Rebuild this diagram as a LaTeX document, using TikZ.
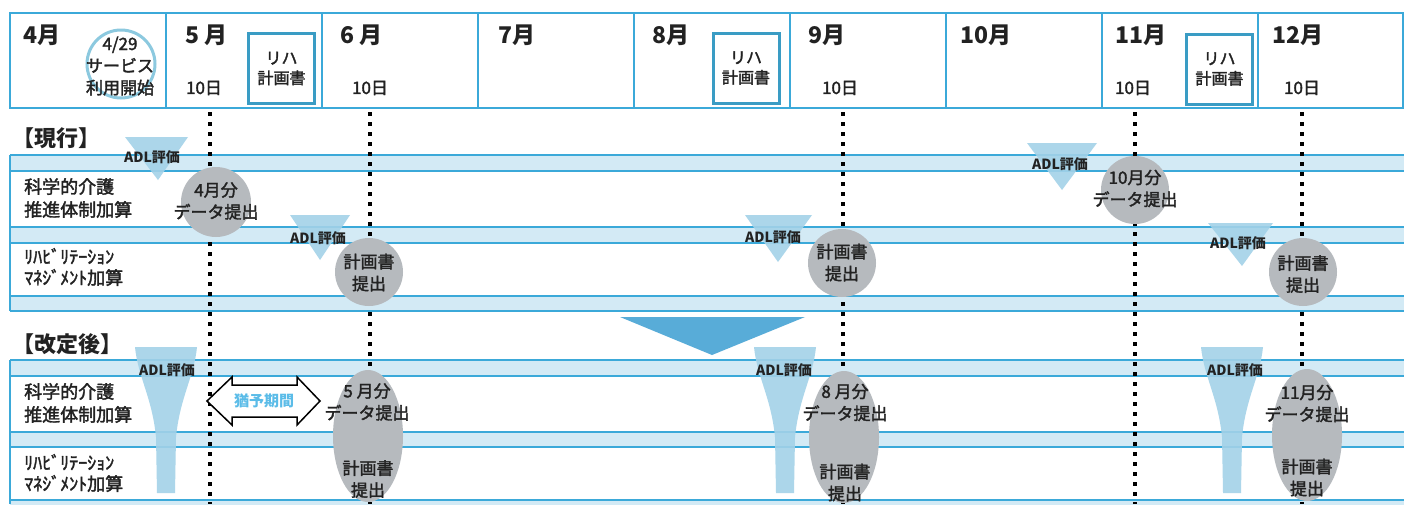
\documentclass[tikz,border=0pt]{standalone}
\usepackage{fontspec}
\setmainfont{Noto Sans CJK JP}
\newfontfamily\medfont{Noto Sans CJK JP}[FakeBold=2]
\usetikzlibrary{shapes.geometric}
\definecolor{lineblue}{HTML}{3BA9D9}
\definecolor{bandfill}{HTML}{D3EAF5}
\definecolor{boxblue}{HTML}{3A9CC4}
\definecolor{circblue}{HTML}{8CC9DF}
\definecolor{cgray}{HTML}{B6BABE}
\definecolor{bigtri}{HTML}{58ACD8}
\definecolor{adlfill}{HTML}{A3D2E8}
\definecolor{yuyo}{HTML}{5BBCE8}
\definecolor{ink}{HTML}{222222}
\begin{document}
\begin{tikzpicture}[x=1pt,y=-1pt,
  mon/.style={anchor=west,inner sep=0,text=ink,font=\fontsize{23}{25}\selectfont\bfseries},
  daylab/.style={inner sep=0,text=ink,font=\medfont\fontsize{17}{19}\selectfont},
  rbox/.style={draw=boxblue,line width=3,minimum width=66,minimum height=70,inner sep=0,align=center,text=ink,font=\medfont\fontsize{16}{20}\selectfont},
  sect/.style={anchor=west,inner sep=0,text=ink,font=\fontsize{22}{24}\selectfont\bfseries},
  rowlab/.style={anchor=west,inner sep=0,align=left,text=ink,font=\medfont\fontsize{18}{23}\selectfont},
  hwlab/.style={anchor=west,inner sep=0,align=left,text=ink,font=\medfont\fontsize{18}{21}\selectfont},
  gcirc/.style={circle,fill=cgray,inner sep=0},
  gell/.style={ellipse,fill=cgray,inner sep=0,minimum width=70,minimum height=132},
  ctext/.style={inner sep=0,align=center,text=ink,font=\medfont\fontsize{17}{22}\selectfont},
  adl/.style={inner sep=0,text=ink,font=\fontsize{14}{16}\selectfont\bfseries},
  band/.style={fill=bandfill},
  bline/.style={draw=lineblue,line width=1.6},
  dots/.style={line width=4,dash pattern=on 4 off 6,black},
  adltri/.style={fill=adlfill,fill opacity=0.9}
]
\useasboundingbox (0,0) rectangle (1404,504);
\fill[white] (0,0) rectangle (1404,504);

% ---------- header ----------
\draw[lineblue,line width=2] (10,13) rectangle (1403,108);
\foreach \x in {166,322,478,634,790,946,1102,1258}
  \draw[lineblue,line width=1.5] (\x,13) -- (\x,108);
\node[mon] (m4) at (23,35) {4月};
\node[mon] (m5) at (185,35) {5 月};
\node[mon] (m6) at (340,35) {6 月};
\node[mon] (m7) at (498,35) {7月};
\node[mon] (m8) at (652,35) {8月};
\node[mon] (m9) at (808,35) {9月};
\node[mon] (m10) at (960,35) {10月};
\node[mon] (m11) at (1115,35) {11月};
\node[mon] (m12) at (1272,35) {12月};
\node[daylab] (d5) at (204,88) {10日};
\node[daylab] (d6) at (370,88) {10日};
\node[daylab] (d9) at (840,88) {10日};
\node[daylab] (d11) at (1133,88) {10日};
\node[daylab] (d12) at (1302,88) {10日};
\node[rbox] (r5) at (281.5,68.5) {リハ\\計画書};
\node[rbox] (r8) at (746,68) {リハ\\計画書};
\node[rbox] (r11) at (1219.5,69) {リハ\\計画書};
\node[draw=circblue,circle,line width=3,minimum size=68,inner sep=0] (c429) at (121,64) {};
\node[ctext] (t429) at (120,66) {4/29\\サービス\\利用開始};

% ---------- bands ----------
\foreach \a/\b in {155/171,227/243,296/311,360/376,432/447,500/506} {
  \fill[band] (10,\a) rectangle (1404,\b);
  \draw[bline] (10,\a) -- (1404,\a);
  \draw[bline] (10,\b) -- (1404,\b);
}
\draw[bline] (10,155) -- (10,311);
\draw[bline] (10,360) -- (10,504);

% ---------- ADL triangles (current) ----------
\fill[adltri] (125,137) -- (188,137) -- (158,180) -- cycle;
\fill[adltri] (290,215) -- (350,215) -- (320,260) -- cycle;
\fill[adltri] (745,215) -- (812,215) -- (778,262) -- cycle;
\fill[adltri] (1027,143) -- (1097,143) -- (1062,190) -- cycle;
\fill[adltri] (1208,223) -- (1273,223) -- (1242,266) -- cycle;

% ---------- ADL funnels (revised) ----------
\foreach \cx in {166,785,1232} {
  \begin{scope}[shift={(\cx,347)}]
    \fill[adltri] (-31,0) -- (31,0) .. controls (28,30) and (14,50) .. (10,90)
      -- (9,146) -- (-9,146) -- (-10,90) .. controls (-14,50) and (-28,30) .. (-31,0) -- cycle;
  \end{scope}
}

% ---------- big down triangle ----------
\fill[bigtri] (620,317) -- (805,317) -- (712,355) -- cycle;

% ---------- dotted timelines ----------
\foreach \n/\x in {a/210,b/370,c/843,d/1135,e/1302} {
  \coordinate (v\n t) at (\x,112);
  \coordinate (v\n b) at (\x,504);
  \draw[dots] (v\n t) -- (v\n b);
}

% ---------- section titles and row labels ----------
\node[sect] (genko) at (12,138) {【現行】};
\node[sect] (kaitei) at (12,344) {【改定後】};
\node[rowlab] (k1) at (24,198) {科学的介護\\推進体制加算};
\node[hwlab] (h1) at (24,267) {ﾘﾊﾋﾞﾘﾃｰｼｮﾝ\\ﾏﾈｼﾞﾒﾝﾄ加算};
\node[rowlab] (k2) at (24,403) {科学的介護\\推進体制加算};
\node[hwlab] (h2) at (24,473) {ﾘﾊﾋﾞﾘﾃｰｼｮﾝ\\ﾏﾈｼﾞﾒﾝﾄ加算};

% ---------- gray circles (current) ----------
\node[gcirc,minimum size=70] (g1) at (216,202) {};
\node[ctext] (g1t) at (216,201) {4月分\\データ提出};
\node[gcirc,minimum size=68] (g2) at (369,272) {};
\node[ctext] (g2t) at (369,272.5) {計画書\\提出};
\node[gcirc,minimum size=68] (g3) at (842,263) {};
\node[ctext] (g3t) at (842,262.5) {計画書\\提出};
\node[gcirc,minimum size=68] (g4) at (1135,190) {};
\node[ctext] (g4t) at (1135,188.5) {10月分\\データ提出};
\node[gcirc,minimum size=68] (g5) at (1303,272) {};
\node[ctext] (g5t) at (1303,274) {計画書\\提出};

% ---------- gray ellipses (revised) ----------
\node[gell] (e5) at (368,436) {};
\node[ctext] (e5a) at (367,402) {5 月分\\データ提出};
\node[ctext] (e5b) at (368,479) {計画書\\提出};
\node[gell] (e8) at (844,437) {};
\node[ctext] (e8a) at (845,402.5) {8 月分\\データ提出};
\node[ctext] (e8b) at (845,482.5) {計画書\\提出};
\node[gell] (e11) at (1307,435) {};
\node[ctext] (e11a) at (1307,403.5) {11月分\\データ提出};
\node[ctext] (e11b) at (1307,477.5) {計画書\\提出};

% ---------- ADL labels ----------
\node[adl] (a1) at (152,157) {ADL評価};
\node[adl] (a2) at (318,238) {ADL評価};
\node[adl] (a3) at (773,237) {ADL評価};
\node[adl] (a4) at (1060,164) {ADL評価};
\node[adl] (a5) at (1238,243) {ADL評価};
\node[adl] (a6) at (167,370) {ADL評価};
\node[adl] (a7) at (784,370) {ADL評価};
\node[adl] (a8) at (1235,370) {ADL評価};

% ---------- grace period double arrow ----------
\draw[black,line width=1.5,fill=white,line join=miter]
  (207,401) -- (232,377) -- (232,385) -- (297,385) -- (297,377) -- (320,401)
  -- (297,425) -- (297,417) -- (232,417) -- (232,425) -- cycle;
\node[inner sep=0,text=yuyo,font=\fontsize{15}{17}\selectfont\bfseries] (yuyo) at (264,401) {猶予期間};
\end{tikzpicture}
\end{document}
